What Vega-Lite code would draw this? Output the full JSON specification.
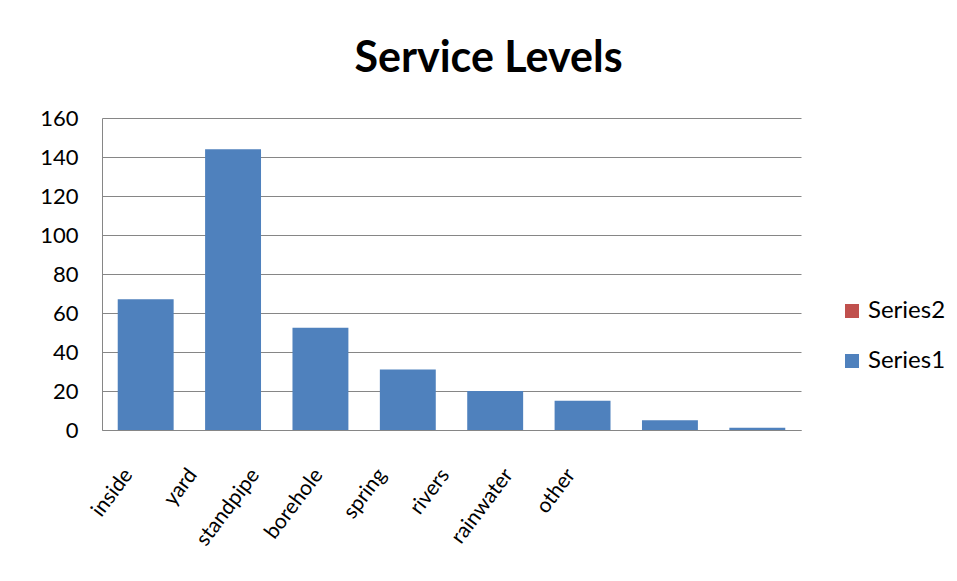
{
  "$schema": "https://vega.github.io/schema/vega-lite/v6.json",
  "width": 699,
  "height": 312,
  "autosize": {"type": "none"},
  "padding": {"left": 102, "top": 118, "right": 156, "bottom": 151},
  "background": "white",
  "title": {
    "text": "Service Levels",
    "font": "Lato",
    "fontSize": 43,
    "fontWeight": "bold",
    "color": "#000000",
    "anchor": "middle",
    "frame": "group",
    "baseline": "alphabetic",
    "dx": 37,
    "offset": -8
  },
  "data": {
    "values": [
      {"source": "inside", "series": "Series1", "value": 67},
      {"source": "yard", "series": "Series1", "value": 144},
      {"source": "standpipe", "series": "Series1", "value": 52.5},
      {"source": "borehole", "series": "Series1", "value": 31},
      {"source": "spring", "series": "Series1", "value": 20},
      {"source": "rivers", "series": "Series1", "value": 15},
      {"source": "rainwater", "series": "Series1", "value": 5},
      {"source": "other", "series": "Series1", "value": 1.2}
    ]
  },
  "mark": {"type": "bar"},
  "encoding": {
    "x": {
      "field": "source",
      "type": "nominal",
      "sort": null,
      "scale": {"paddingInner": 0.36, "paddingOuter": 0.18},
      "axis": {
        "title": null,
        "labelAngle": -53,
        "labelAlign": "right",
        "labelBaseline": "middle",
        "labelFont": "Lato",
        "labelFontSize": 21,
        "labelColor": "#000000",
        "labelPadding": 41,
        "ticks": false,
        "tickSize": 0,
        "domainColor": "#868686",
        "domainWidth": 1,
        "grid": false,
        "labelOffset": {
          "condition": [
            {"test": "datum.value === 'yard'", "value": -40},
            {"test": "datum.value === 'standpipe'", "value": -65},
            {"test": "datum.value === 'borehole'", "value": -89},
            {"test": "datum.value === 'spring'", "value": -113},
            {"test": "datum.value === 'rivers'", "value": -137},
            {"test": "datum.value === 'rainwater'", "value": -161},
            {"test": "datum.value === 'other'", "value": -186}
          ],
          "value": -17
        }
      }
    },
    "y": {
      "field": "value",
      "type": "quantitative",
      "scale": {"domain": [0, 160], "nice": false},
      "axis": {
        "title": null,
        "values": [0, 20, 40, 60, 80, 100, 120, 140, 160],
        "labelFont": "Lato",
        "labelFontSize": 22,
        "labelColor": "#000000",
        "labelPadding": 24,
        "ticks": false,
        "tickSize": 0,
        "grid": true,
        "gridColor": "#868686",
        "gridWidth": 1,
        "domainColor": "#868686",
        "domainWidth": 1
      }
    },
    "color": {
      "field": "series",
      "type": "nominal",
      "scale": {"domain": ["Series2", "Series1"], "range": ["#C0504D", "#4F81BD"]},
      "legend": {
        "title": null,
        "orient": "none",
        "legendX": 738,
        "legendY": 181,
        "symbolType": "square",
        "symbolSize": 196,
        "symbolStrokeWidth": 0,
        "labelFont": "Lato",
        "labelFontSize": 24,
        "labelColor": "#000000",
        "labelOffset": 4,
        "rowPadding": 26,
        "padding": 0
      }
    }
  },
  "config": {
    "view": {"stroke": null}
  }
}
